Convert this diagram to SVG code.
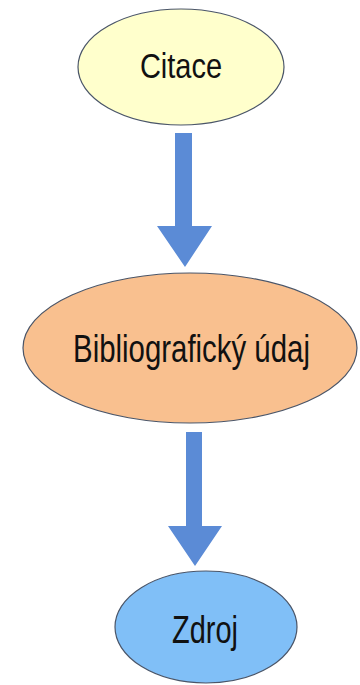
<svg xmlns="http://www.w3.org/2000/svg" width="360" height="685" viewBox="0 0 360 685">
<style>
.node{stroke:#4a5568;stroke-width:1.2}
.lbl{font-family:"Liberation Sans",Arial,sans-serif;fill:#111;text-anchor:middle}
.arr{fill:#5b8bd6}
</style>
<rect width="360" height="685" fill="#fff"/>
<g id="connectors">
<path class="arr" d="M175,133 H192 V226 H212 L185,267 L157,226 H175 Z"/>
<path class="arr" d="M186,432 H202 V526 H222 L195,566 L168,526 H186 Z"/>
</g>
<g id="citace">
<ellipse class="node" cx="181" cy="67" rx="103" ry="58" fill="#ffffcc"/>
<text class="lbl" transform="translate(181,78) scale(1,1.2)" x="0" y="0" font-size="29">Citace</text>
</g>
<g id="bibliograficky-udaj">
<ellipse class="node" cx="190" cy="348" rx="167" ry="75" fill="#f9c08f"/>
<text class="lbl" transform="translate(191.5,362) scale(1,1.33)" x="0" y="0" font-size="29.4">Bibliografický údaj</text>
</g>
<g id="zdroj">
<ellipse class="node" cx="206" cy="627" rx="91" ry="56" fill="#80bff7"/>
<text class="lbl" transform="translate(205,643) scale(1,1.35)" x="0" y="0" font-size="29">Zdroj</text>
</g>
</svg>
